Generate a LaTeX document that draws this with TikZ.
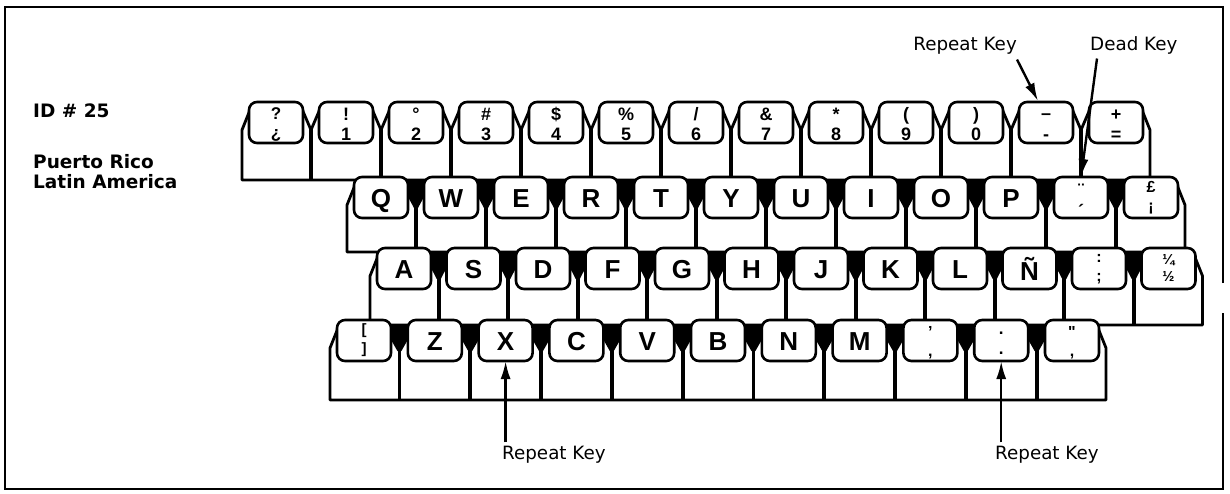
\documentclass[tikz,border=0pt]{standalone}
\usepackage{fontspec}
\newfontfamily\keyfont{Liberation Sans}
\newfontfamily\lblfont{DejaVu Sans}
\usetikzlibrary{arrows.meta}
\newcommand\sz[1]{\fontsize{#1}{#1}\selectfont}
% row: prefix, x0, pitch, n, top, bottom, prevbottom, mode
\newcommand\drawrow[8]{%
  \pgfmathsetmacro\Lz{#2}%
  \pgfmathsetmacro\Rn{#2+(#4-1)*#3+54}%
  \pgfmathtruncatemacro\nm{#4-1}%
  \pgfmathtruncatemacro\ng{#4-2}%
  \fill[white] (\Lz+1,#5) -- (\Rn-1,#5) -- (\Rn-1,#5+8) -- (\Rn+7,#5+28) -- (\Rn+7,#6)
     -- (\Lz-7,#6) -- (\Lz-7,#5+28) -- (\Lz+1,#5+8) -- cycle;
  \foreach \k in {0,...,\ng}{%
    \pgfmathsetmacro\Ra{#2+\k*#3+54}%
    \pgfmathsetmacro\Lb{#2+(\k+1)*#3}%
    \pgfmathsetmacro\mm{(\Ra+\Lb)/2}%
    \ifnum#8=0
      \draw[keyline] (\Ra-1,#5+7) -- (\mm,#5+28) -- (\Lb+1,#5+7);
    \else
      \fill (\Ra-4,#7-1.5) -- (\Lb+4,#7-1.5) -- (\Lb+1,#5+18) -- (\mm+2,#5+31)
        -- (\mm-2,#5+31) -- (\Ra-1,#5+18) -- cycle;
    \fi
    \draw[divline] (\mm,#5+27) -- (\mm,#6);
  }
  \draw[keyline] (\Lz+1,#5+8) -- (\Lz-7,#5+28) -- (\Lz-7,#6) -- (\Rn+7,#6)
     -- (\Rn+7,#5+28) -- (\Rn-1,#5+8);
  \foreach \k in {0,...,\nm}{%
    \node[keycap] (c#1-\k) at (#2+\k*#3+27,#5+20.5) {};
  }%
}
\newcommand\one[3][30]{\node[klab] (#2l) at ([yshift=-#1pt]#2.north) {\sz{26}#3};}
% cap, upper, lower, size, lower baseline, line skip
\newcommand\two[6]{%
  \node[klab] (#1d) at ([yshift=-#5pt]#1.north) {\sz{#4}#3};
  \node[klab] (#1u) at ([yshift=#6pt]#1d.base) {\sz{#4}#2};}
\begin{document}
\begin{tikzpicture}[x=1pt,y=-1pt,
  keycap/.style={draw, fill=white, line width=2.6pt, rounded corners=8pt,
    minimum width=54pt, minimum height=41pt, inner sep=0pt, outer sep=0pt},
  keyline/.style={line width=2.8pt, line join=round},
  divline/.style={line width=3.8pt},
  klab/.style={font={\keyfont\bfseries}, inner sep=0pt, anchor=base},
  note/.style={font={\lblfont\sz{18.3}}, inner sep=0pt},
  lft/.style={font={\lblfont\bfseries\sz{18.5}}, inner sep=0pt, anchor=base west},
  arr/.style={line width=2.4pt, -{Latex[length=18pt,width=10pt]}},
]
\useasboundingbox (0,0) rectangle (1230,493);
\fill[white] (0,0) rectangle (1230,493);
\draw[line width=2pt] (1223,283) -- (1223,7) -- (5,7) -- (5,489) -- (1223,489) -- (1223,313);

\node[lft] (id) at (33,117) {ID \# 25};
\node[lft] (pr) at (33,168) {Puerto Rico};
\node[lft] (la) at (33,188) {Latin America};

\drawrow{1}{249}{70}{13}{102}{180}{0}{0}
\drawrow{2}{354}{70}{12}{177}{252}{180}{1}
\drawrow{3}{377}{69.5}{12}{248}{325}{252}{1}
\drawrow{4}{337}{70.8}{11}{320}{400}{325}{1}

% row 1
\two{c1-0}{?}{¿}{17}{36.5}{19.3}
\two{c1-1}{!}{1}{18}{38.5}{20.4}
\two{c1-2}{°}{2}{18}{38.5}{20.4}
\two{c1-3}{\#}{3}{18}{38.5}{20.4}
\two{c1-4}{\$}{4}{18}{38.5}{20.4}
\two{c1-5}{\%}{5}{18}{38.5}{20.4}
\two{c1-6}{/}{6}{18}{38.5}{20.4}
\two{c1-7}{\&}{7}{18}{38.5}{20.4}
\two{c1-8}{*}{8}{18}{38.5}{20.4}
\two{c1-9}{(}{9}{18}{38.5}{20.4}
\two{c1-10}{)}{0}{18}{38.5}{20.4}
\two{c1-11}{–}{-}{18}{38.5}{21.5}
\two{c1-12}{+}{=}{18}{38.5}{20.4}
% row 2
\one{c2-0}{Q}\one{c2-1}{W}\one{c2-2}{E}\one{c2-3}{R}\one{c2-4}{T}
\one{c2-5}{Y}\one{c2-6}{U}\one{c2-7}{I}\one{c2-8}{O}\one{c2-9}{P}
\two{c2-10}{¨}{´}{18}{40}{21}
\two{c2-11}{£}{¡}{16}{34}{18.1}
% row 3
\one{c3-0}{A}\one{c3-1}{S}\one{c3-2}{D}\one{c3-3}{F}\one{c3-4}{G}
\one{c3-5}{H}\one{c3-6}{J}\one{c3-7}{K}\one{c3-8}{L}\one[32.5]{c3-9}{Ñ}
\two{c3-10}{:}{;}{16}{33}{18.1}
\two{c3-11}{¼}{½}{14.5}{33}{16.4}
% row 4
\two{c4-0}{[}{]}{15}{33}{19}
\one{c4-1}{Z}\one{c4-2}{X}\one{c4-3}{C}\one{c4-4}{V}\one{c4-5}{B}
\one{c4-6}{N}\one{c4-7}{M}
\two{c4-8}{’}{,}{16}{36}{18.1}
\two{c4-9}{.}{.}{17}{34}{19.3}
\two{c4-10}{"}{,}{16}{36}{18.1}

% annotations
\node[note, anchor=base east] (rkt) at (1017,50.5) {Repeat Key};
\node[note, anchor=base west] (dk) at (1090,50.5) {Dead Key};
\node[note, anchor=base west] (rkb1) at (502,459) {Repeat Key};
\node[note, anchor=base west] (rkb2) at (995,459) {Repeat Key};

\draw[arr] ([yshift=-5pt]rkt.south east) -- ([xshift=19pt,yshift=1pt]c1-11.north west);
\draw[arr] ([xshift=7pt,yshift=-4pt]dk.south west) -- (c2-10.north);
\coordinate (b1) at ([yshift=3pt]rkb1.north);
\coordinate (b2) at ([yshift=3pt]rkb2.north);
\draw[arr] (b1 -| c4-2.south) -- (c4-2.south);
\draw[arr] (b2 -| c4-9.south) -- (c4-9.south);
\end{tikzpicture}
\end{document}
